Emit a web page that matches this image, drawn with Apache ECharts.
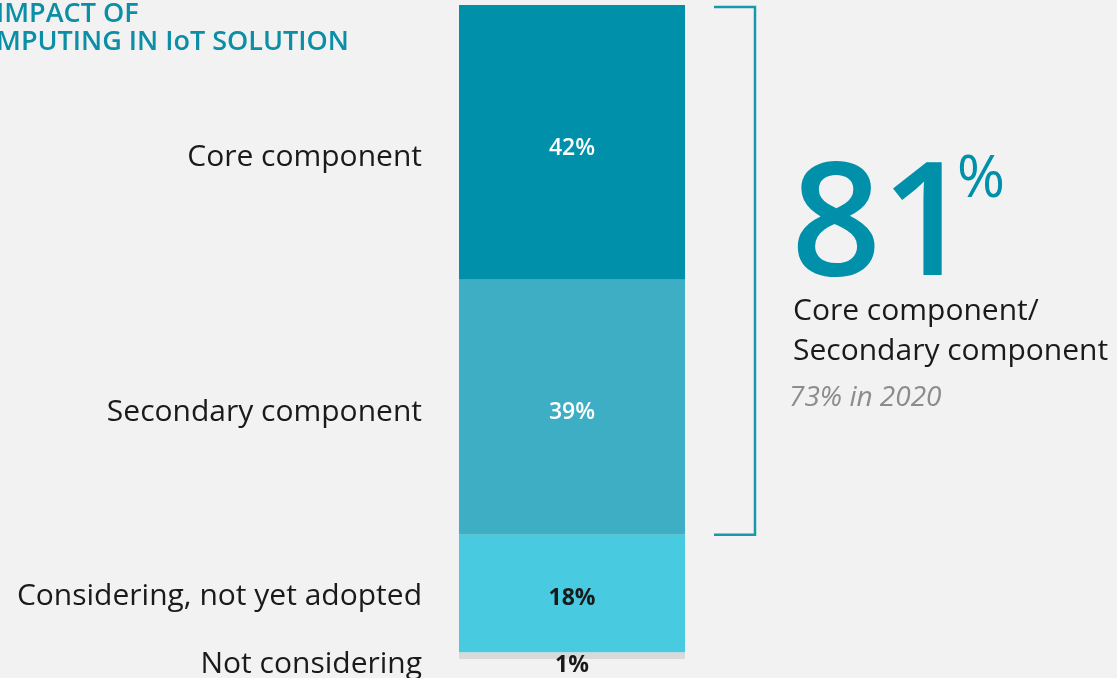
<!DOCTYPE html>
<html>
<head>
<meta charset="utf-8">
<script src="https://cdn.jsdelivr.net/npm/echarts@6/dist/echarts.min.js"></script>
<style>
  html, body { margin: 0; padding: 0; background: #f2f2f2; }
  #chart { width: 1117px; height: 678px; }
</style>
</head>
<body>
<div id="chart"></div>
<script>
// data
var categories = ['Core component', 'Secondary component', 'Considering, not yet adopted', 'Not considering'];
var shares = [42, 39, 18, 1];
var headline = 81; // core + secondary
var previousYear = '73% in 2020';

var colors = ['#0090aa', '#3daec4', '#48cae0', '#d9d9d9'];
var valueColors = ['#ffffff', '#ffffff', '#1a1a1a', '#1a1a1a'];
var valueNudge = [6, 5, 5, 10];
var nameNudge = [15, 5, 3, 9];

var dom = document.getElementById('chart');
var myChart = echarts.init(dom);
var font = '"Open Sans", "Noto Sans", sans-serif';

var series = [];
// coloured segments with the value inside
for (var i = 0; i < shares.length; i++) {
    series.push({
        type: 'bar',
        stack: 'share',
        name: categories[i],
        data: [shares[i]],
        barWidth: '100%',
        itemStyle: { color: colors[i] },
        label: {
            show: true,
            position: 'inside',
            offset: [0, valueNudge[i]],
            formatter: '{c}%',
            color: valueColors[i],
            fontFamily: font,
            fontSize: 23,
            fontWeight: i < 2 ? 600 : 'bold'
        }
    });
}
// see-through copy of the stack that carries the names on the left
for (var j = 0; j < shares.length; j++) {
    series.push({
        type: 'bar',
        stack: 'names',
        data: [shares[j]],
        barWidth: '100%',
        barGap: '-100%',
        silent: true,
        itemStyle: { color: 'rgba(0,0,0,0)' },
        label: {
            show: true,
            position: 'left',
            distance: 37,
            offset: [0, nameNudge[j]],
            formatter: categories[j],
            color: '#1a1a1a',
            fontFamily: font,
            fontSize: 30
        }
    });
}

var option = {
    backgroundColor: '#f2f2f2',
    animation: false,
    title: [
        {
            text: 'IMPACT OF\nMPUTING IN IoT SOLUTION',
            left: -4,
            top: 0,
            padding: 0,
            textStyle: { color: '#0b8ea6', fontFamily: font, fontSize: 27, fontWeight: 600, lineHeight: 28 }
        },
        {
            text: String(headline),
            left: 791,
            top: 135,
            padding: 0,
            textStyle: { color: '#0090aa', fontFamily: font, fontSize: 158, fontWeight: 600, lineHeight: 190 }
        },
        {
            text: '%',
            left: 957,
            top: 151,
            padding: 0,
            textStyle: { color: '#0090aa', fontFamily: font, fontSize: 58, fontWeight: 500 }
        },
        {
            text: 'Core component/\nSecondary component',
            left: 793,
            top: 291,
            padding: 0,
            textStyle: { color: '#1a1a1a', fontFamily: font, fontSize: 30, fontWeight: 'normal', lineHeight: 40 }
        },
        {
            text: previousYear,
            left: 789,
            top: 384,
            padding: 0,
            textStyle: { color: '#8c8c8c', fontFamily: font, fontSize: 28, fontStyle: 'italic', fontWeight: 'normal' }
        }
    ],
    grid: { left: 459, right: 432, top: 5, bottom: 19 },
    xAxis: { type: 'category', data: [''], show: false },
    yAxis: { type: 'value', min: 0, max: 100, inverse: true, show: false },
    series: series
};
myChart.setOption(option);

// bracket over the core + secondary share
var yTop = myChart.convertToPixel({ yAxisIndex: 0 }, 0);
var yBottom = myChart.convertToPixel({ yAxisIndex: 0 }, shares[0] + shares[1]);
myChart.setOption({
    graphic: [{
        type: 'polyline',
        shape: { points: [[714, yTop + 2], [755, yTop + 2], [755, yBottom], [714, yBottom]] },
        style: { stroke: '#1a96ad', lineWidth: 2.5, fill: null }
    }]
});
</script>
</body>
</html>
